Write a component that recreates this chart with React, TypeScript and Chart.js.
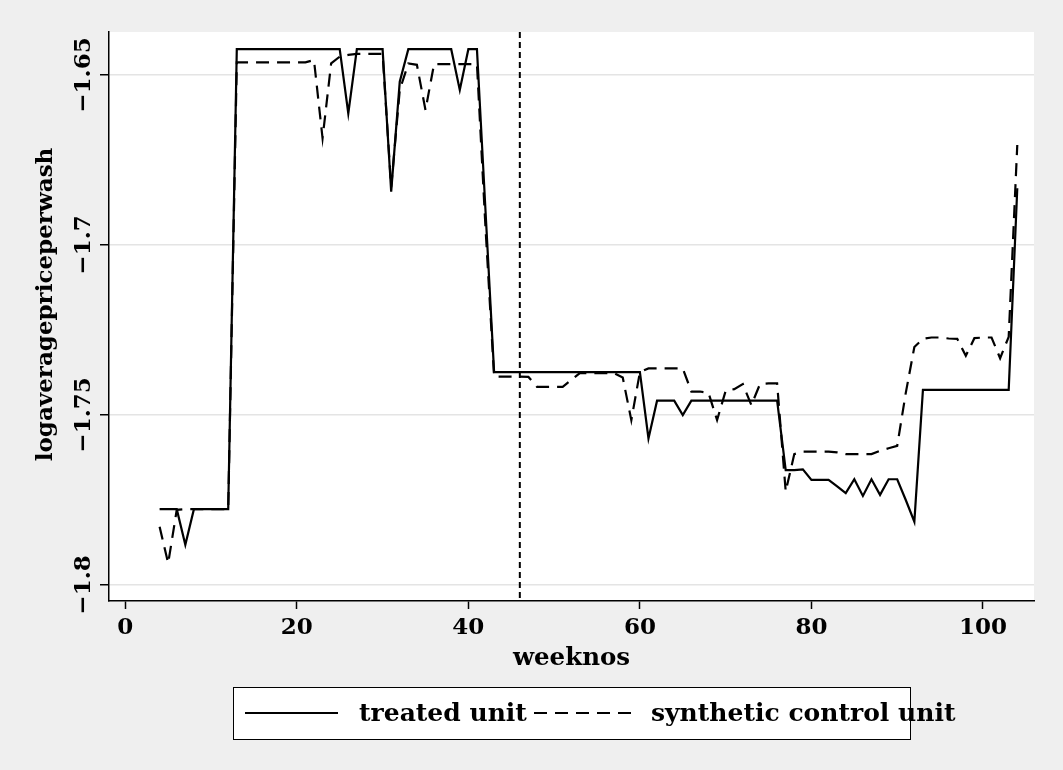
import React, { useEffect, useRef } from 'react';
import { Chart, registerables } from 'chart.js';

Chart.register(...registerables);

// ---------- data ----------
const weeks = [
  4, 5, 6, 7, 8, 9, 10, 11, 12, 13, 14, 15, 16, 17, 18, 19, 20, 21, 22, 23,
  24, 25, 26, 27, 28, 29, 30, 31, 32, 33, 34, 35, 36, 37, 38, 39, 40, 41, 42, 43,
  44, 45, 46, 47, 48, 49, 50, 51, 52, 53, 54, 55, 56, 57, 58, 59, 60, 61, 62, 63,
  64, 65, 66, 67, 68, 69, 70, 71, 72, 73, 74, 75, 76, 77, 78, 79, 80, 81, 82, 83,
  84, 85, 86, 87, 88, 89, 90, 91, 92, 93, 94, 95, 96, 97, 98, 99, 100, 101, 102, 103,
  104,
];

const treatedUnit = [
  // 4-12
  -1.7777, -1.7777, -1.7777, -1.7882, -1.7777, -1.7777, -1.7777, -1.7777, -1.7777,
  // 13-25
  -1.6424, -1.6424, -1.6424, -1.6424, -1.6424, -1.6424, -1.6424, -1.6424, -1.6424, -1.6424, -1.6424, -1.6424, -1.6424,
  // 26-32
  -1.6613, -1.6424, -1.6424, -1.6424, -1.6424, -1.6843, -1.652,
  // 33-42
  -1.6424, -1.6424, -1.6424, -1.6424, -1.6424, -1.6424, -1.6544, -1.6424, -1.6424, -1.69,
  // 43-60
  -1.7374, -1.7374, -1.7374, -1.7374, -1.7374, -1.7374, -1.7374, -1.7374, -1.7374,
  -1.7374, -1.7374, -1.7374, -1.7374, -1.7374, -1.7374, -1.7374, -1.7374, -1.7374,
  // 61-65
  -1.7569, -1.7458, -1.7458, -1.7458, -1.75,
  // 66-76
  -1.7458, -1.7458, -1.7458, -1.7458, -1.7458, -1.7458, -1.7458, -1.7458, -1.7458, -1.7458, -1.7458,
  // 77-92
  -1.7662, -1.7662, -1.766, -1.7691, -1.7691, -1.7691, -1.771, -1.773,
  -1.7689, -1.7738, -1.7689, -1.7735, -1.7689, -1.7689, -1.775, -1.7814,
  // 93-103
  -1.7426, -1.7426, -1.7426, -1.7426, -1.7426, -1.7426, -1.7426, -1.7426, -1.7426, -1.7426, -1.7426,
  // 104
  -1.6833,
];

const syntheticControl = [
  // 4-12
  -1.7829, -1.7936, -1.7779, -1.7777, -1.7777, -1.7777, -1.7777, -1.7777, -1.7777,
  // 13-21
  -1.6463, -1.6463, -1.6463, -1.6463, -1.6463, -1.6463, -1.6463, -1.6463, -1.6463,
  // 22-30
  -1.6456, -1.6686, -1.6466, -1.6446, -1.6441, -1.6438, -1.6438, -1.6438, -1.6438,
  // 31-35
  -1.683, -1.6544, -1.6466, -1.647, -1.6603,
  // 36-42
  -1.6468, -1.6468, -1.6468, -1.6468, -1.6468, -1.6468, -1.695,
  // 43-52
  -1.7387, -1.7387, -1.7387, -1.7387, -1.7388, -1.7417, -1.7417, -1.7417, -1.7417, -1.7397,
  // 53-60
  -1.7377, -1.7377, -1.7377, -1.7377, -1.7377, -1.739, -1.7515, -1.7374,
  // 61-65
  -1.7363, -1.7363, -1.7363, -1.7363, -1.7363,
  // 66-78
  -1.7431, -1.7431, -1.7435, -1.7515, -1.7429, -1.7424, -1.7409, -1.7471, -1.7409,
  -1.7407, -1.7407, -1.7725, -1.7615,
  // 79-90
  -1.7608, -1.7608, -1.7608, -1.7608, -1.761, -1.7615, -1.7615, -1.7615, -1.7615,
  -1.7605, -1.7598, -1.7591,
  // 91-104
  -1.7435, -1.73, -1.7276, -1.7272, -1.7272, -1.7275, -1.7276, -1.7326, -1.7274,
  -1.7272, -1.7272, -1.7333, -1.727, -1.6706,
];

const seriesNames = ['treated unit', 'synthetic control unit'];
const xTickValues = [0, 20, 40, 60, 80, 100];
const xTickLabels = ['0', '20', '40', '60', '80', '100'];
const yTickValues = [-1.8, -1.75, -1.7, -1.65];
const yTickLabels = ['\u22121.8', '\u22121.75', '\u22121.7', '\u22121.65'];
const xTitle = 'weeknos';
const yTitle = 'logaveragepriceperwash';
const treatmentWeek = 46;

// ---------- style ----------
const W = 1063;
const H = 770;
const BG = '#efefef';
const GRID = '#e4e4e4';
const FONT_FAMILY = '"DejaVu Serif", serif';
const TICK_SIZE = 23;
const XTITLE_SIZE = 24.5;
const YTITLE_SIZE = 23;
const LEGEND_SIZE = 25;

const labelFor = (vals: number[], labels: string[], v: number) => {
  const i = vals.findIndex((t) => Math.abs(t - v) < 1e-9);
  return i >= 0 ? labels[i] : '';
};

export default function App() {
  const ref = useRef<HTMLCanvasElement>(null);

  useEffect(() => {
    document.body.style.margin = '0';
    const canvas = ref.current!;
    const tickFont = { family: FONT_FAMILY, size: TICK_SIZE, weight: 'bold' as const };

    const mctx = document.createElement('canvas').getContext('2d')!;
    mctx.font = `normal bold ${TICK_SIZE}px ${FONT_FAMILY}`;
    const widest = Math.max(...yTickLabels.map((t) => mctx.measureText(t).width));
    const yLabelPad = 109 - 9 - 84 - widest / 2;

    const decor = {
      id: 'decor',
      beforeDraw(chart: any) {
        const { ctx, chartArea: a } = chart;
        ctx.save();
        ctx.fillStyle = BG;
        ctx.fillRect(0, 0, chart.width, chart.height);
        ctx.fillStyle = '#ffffff';
        ctx.fillRect(a.left, a.top, a.right - a.left, a.bottom - a.top);
        ctx.restore();
      },
      afterDatasetsDraw(chart: any) {
        const { ctx, chartArea: a } = chart;
        const x = chart.scales.x.getPixelForValue(treatmentWeek);
        ctx.save();
        ctx.strokeStyle = '#000';
        ctx.lineWidth = 2;
        ctx.setLineDash([6, 4]);
        ctx.beginPath();
        ctx.moveTo(x, a.top);
        ctx.lineTo(x, a.bottom);
        ctx.stroke();
        ctx.restore();
      },
      afterDraw(chart: any) {
        const ctx = chart.ctx;
        ctx.save();
        ctx.fillStyle = '#ffffff';
        ctx.fillRect(233, 687, 678, 53);
        ctx.strokeStyle = '#000';
        ctx.lineWidth = 1;
        ctx.strokeRect(233.5, 687.5, 677, 52);
        ctx.lineWidth = 2;
        ctx.beginPath();
        ctx.moveTo(245, 713);
        ctx.lineTo(338, 713);
        ctx.stroke();
        ctx.setLineDash([13, 8]);
        ctx.beginPath();
        ctx.moveTo(534, 713);
        ctx.lineTo(635, 713);
        ctx.stroke();
        ctx.setLineDash([]);
        ctx.fillStyle = '#000';
        ctx.font = `bold ${LEGEND_SIZE}px ${FONT_FAMILY}`;
        ctx.textBaseline = 'middle';
        ctx.textAlign = 'left';
        ctx.fillText(seriesNames[0], 359, 714);
        ctx.fillText(seriesNames[1], 651, 714);
        ctx.restore();
      },
    };

    const chart = new Chart(canvas, {
      type: 'line',
      data: {
        datasets: [
          {
            label: seriesNames[0],
            data: weeks.map((w, i) => ({ x: w, y: treatedUnit[i] })),
            borderColor: '#000',
            borderWidth: 2.2,
            pointRadius: 0,
            tension: 0,
            fill: false,
          },
          {
            label: seriesNames[1],
            data: weeks.map((w, i) => ({ x: w, y: syntheticControl[i] })),
            borderColor: '#000',
            borderWidth: 2.2,
            borderDash: [13, 8],
            pointRadius: 0,
            tension: 0,
            fill: false,
          },
        ],
      },
      options: {
        responsive: false,
        maintainAspectRatio: false,
        devicePixelRatio: 1,
        animation: false,
        layout: { padding: { top: 32, right: 29, bottom: 0, left: 0 } },
        plugins: { legend: { display: false }, tooltip: { enabled: false } },
        scales: {
          x: {
            type: 'linear',
            min: -1.9,
            max: 105.95,
            afterBuildTicks: (s: any) => {
              s.ticks = xTickValues.map((v) => ({ value: v }));
            },
            afterFit: (s: any) => {
              s.height = H - 601;
            },
            ticks: {
              font: tickFont,
              color: '#000',
              padding: 5,
              maxRotation: 0,
              autoSkip: false,
              callback: (v: any) => labelFor(xTickValues, xTickLabels, Number(v)),
            },
            grid: {
              drawOnChartArea: false,
              drawTicks: true,
              tickLength: 8,
              tickColor: '#000',
              tickWidth: 1.5,
            },
            border: { display: true, color: '#000', width: 1.5 },
            title: {
              display: true,
              text: xTitle,
              font: { family: FONT_FAMILY, size: XTITLE_SIZE, weight: 'bold' },
              color: '#000',
              padding: { top: 0, bottom: 97 },
            },
          },
          y: {
            type: 'linear',
            min: -1.80471,
            max: -1.63735,
            afterBuildTicks: (s: any) => {
              s.ticks = yTickValues.map((v) => ({ value: v }));
            },
            afterFit: (s: any) => {
              s.width = 109;
            },
            ticks: {
              font: tickFont,
              color: '#000',
              padding: yLabelPad,
              minRotation: 90,
              maxRotation: 90,
              crossAlign: 'center',
              autoSkip: false,
              callback: (v: any) => labelFor(yTickValues, yTickLabels, Number(v)),
            },
            grid: {
              color: GRID,
              lineWidth: 1.5,
              drawTicks: true,
              tickLength: 9,
              tickColor: '#000',
              tickWidth: 1.5,
            },
            border: { display: true, color: '#000', width: 1.5 },
            title: {
              display: true,
              text: '   ' + yTitle,
              font: { family: FONT_FAMILY, size: YTITLE_SIZE, weight: 'bold' },
              color: '#000',
              padding: { top: 32, bottom: 0 },
            },
          },
        },
      } as any,
      plugins: [decor],
    });

    return () => chart.destroy();
  }, []);

  return (
    <div style={{ width: W, height: H, background: BG }}>
      <canvas ref={ref} width={W} height={H} style={{ display: 'block', width: W, height: H }} />
    </div>
  );
}
